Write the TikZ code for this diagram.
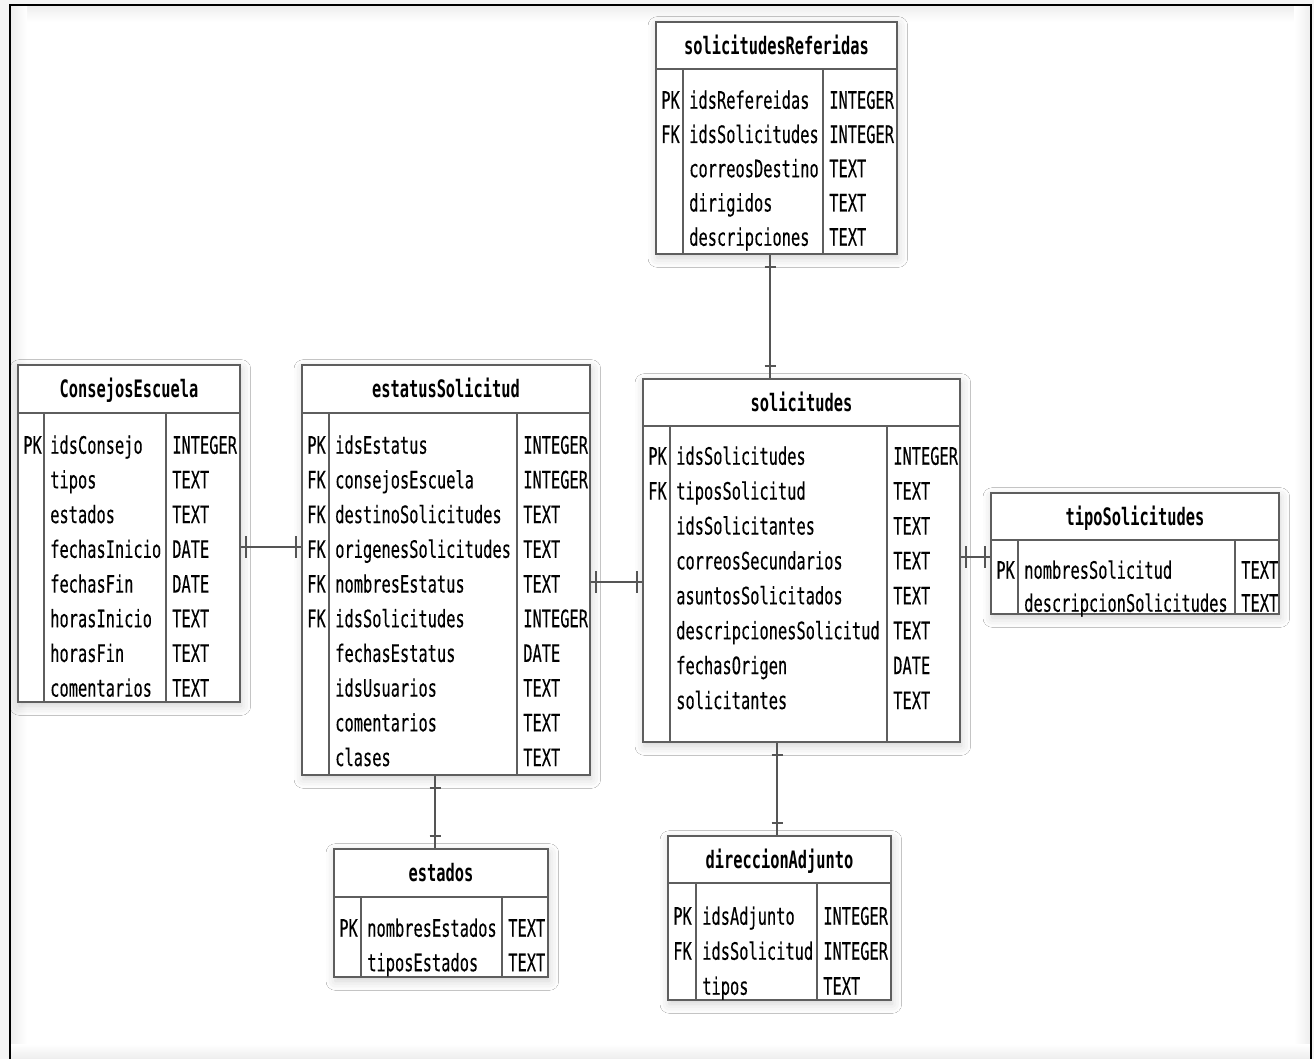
\documentclass[tikz,border=0pt]{standalone}
\usepackage{fontspec}
\setmonofont{DejaVu Sans Mono}[FakeStretch=0.64, UprightFeatures={FakeBold=0.2}]
\usetikzlibrary{fit,calc,shadows.blur}

\definecolor{rulegray}{HTML}{5E5E5E}
\definecolor{linegray}{HTML}{555555}

\tikzset{
  tbl/.style={draw=rulegray, line width=1.1pt, fill=white, inner sep=0pt,
    blur shadow={shadow xshift=1pt, shadow yshift=-3pt, shadow blur radius=7pt, shadow opacity=18}},
  rule/.style={draw=rulegray, line width=1.1pt},
  cell/.style={inner sep=0pt, anchor=west, text height=13.1pt, text depth=0pt,
    font=\ttfamily\fontsize{18}{20}\selectfont},
  ttl/.style={inner sep=0pt, anchor=center, text height=13.1pt, text depth=0pt,
    font=\ttfamily\bfseries\fontsize{18}{20}\selectfont},
  rel/.style={draw=linegray, line width=1.2pt},
}

% table frame: name, x-left, y-top, x-key rule, x-type rule, x-right, y-header rule, y-bottom, title
\newcommand\ertable[9]{%
  \node[tbl, fit={(#2,#3) (#6,#8)}] (#1) {};
  \draw[rule] (#2,#7) -- (#6,#7);
  \draw[rule] (#4,#7) -- (#4,#8);
  \draw[rule] (#5,#7) -- (#5,#8);
  \node[ttl] (#1-title) at ({(#2+#6)/2},{(#3+#7)/2}) {#9};
}
% table rows: name, x-left, x-key rule, x-type rule, first row y, row step, key/column/type list
\newcommand\errows[7]{%
  \foreach \kk/\nm/\ty [count=\i from 0] in {#7} {
    \node[cell] (#1-k\i) at ({#2+5},{#5+\i*#6}) {\kk};
    \node[cell] (#1-n\i) at ({#3+6},{#5+\i*#6}) {\nm};
    \node[cell] (#1-t\i) at ({#4+6},{#5+\i*#6}) {\ty};
  }%
}
% one-to-one relation between side-by-side tables, at the height of a junction
\newcommand\hlink[3]{%
  \draw[rel] (#1.east |- #3) coordinate (#3-a) -- (#2.west |- #3) coordinate (#3-b);
  \draw[rel] ($(#3-a)+(5,-11)$) -- ++(0,22);
  \draw[rel] ($(#3-b)+(-5,-11)$) -- ++(0,22);
}
% one-to-one relation between stacked tables, along a junction's x
\newcommand\vlink[3]{%
  \draw[rel] (#1.south -| #3) coordinate (#3-a) -- (#2.north -| #3) coordinate (#3-b);
  \draw[rel] ($(#3-a)+(-5.5,12)$) -- ++(11,0);
  \draw[rel] ($(#3-b)+(-5.5,-12)$) -- ++(11,0);
}

\begin{document}
\begin{tikzpicture}[x=0.75pt, y=-0.75pt]
\useasboundingbox (0,0) rectangle (1314,1059);

% page and frame
\fill[gray!8] (0,0) rectangle (1314,1059);
\fill[white] (10,5) rectangle (1311,1059);
\shade[top color=gray!14, bottom color=white] (10,5) rectangle (1311,22);
\shade[left color=gray!14, right color=white] (10,5) rectangle (27,1059);
\shade[left color=white, right color=gray!14] (1294,5) rectangle (1311,1059);
\shade[top color=white, bottom color=gray!14] (10,1044) rectangle (1311,1059);
\draw[line width=2.2pt, black] (10,1059) -- (10,5) -- (1311,5) -- (1311,1059);

% tables
\ertable{ref}{656}{22}{683}{823}{897}{69}{254}{solicitudesReferidas}
\errows{ref}{656}{683}{823}{100}{34.25}{PK/idsRefereidas/INTEGER, FK/idsSolicitudes/INTEGER,
  {}/correosDestino/TEXT, {}/dirigidos/TEXT, {}/descripciones/TEXT}

\ertable{cons}{18}{365}{44}{166}{240}{413}{702}{ConsejosEscuela}
\errows{cons}{18}{44}{166}{445}{34.7}{PK/idsConsejo/INTEGER, {}/tipos/TEXT, {}/estados/TEXT,
  {}/fechasInicio/DATE, {}/fechasFin/DATE, {}/horasInicio/TEXT, {}/horasFin/TEXT, {}/comentarios/TEXT}

\ertable{est}{302}{365}{329}{517}{590}{413}{775}{estatusSolicitud}
\errows{est}{302}{329}{517}{445}{34.7}{PK/idsEstatus/INTEGER, FK/consejosEscuela/INTEGER,
  FK/destinoSolicitudes/TEXT, FK/origenesSolicitudes/TEXT, FK/nombresEstatus/TEXT,
  FK/idsSolicitudes/INTEGER, {}/fechasEstatus/DATE, {}/idsUsuarios/TEXT, {}/comentarios/TEXT, {}/clases/TEXT}

\ertable{sol}{643}{379}{670}{887}{960}{426}{742}{solicitudes}
\errows{sol}{643}{670}{887}{456}{34.9}{PK/idsSolicitudes/INTEGER, FK/tiposSolicitud/TEXT,
  {}/idsSolicitantes/TEXT, {}/correosSecundarios/TEXT, {}/asuntosSolicitados/TEXT,
  {}/descripcionesSolicitud/TEXT, {}/fechasOrigen/DATE, {}/solicitantes/TEXT}

\ertable{tipo}{991}{493}{1018}{1235}{1279}{540}{614}{tipoSolicitudes}
\errows{tipo}{991}{1018}{1235}{570}{33}{PK/nombresSolicitud/TEXT, {}/descripcionSolicitudes/TEXT}

\ertable{edo}{334}{849}{361}{502}{548}{897}{977}{estados}
\errows{edo}{334}{361}{502}{928}{34.5}{PK/nombresEstados/TEXT, {}/tiposEstados/TEXT}

\ertable{dir}{668}{836}{696}{817}{891}{883}{1000}{direccionAdjunto}
\errows{dir}{668}{696}{817}{916}{35}{PK/idsAdjunto/INTEGER, FK/idsSolicitud/INTEGER, {}/tipos/TEXT}

% relation junctions
\coordinate (jce) at (271,547);
\coordinate (jes) at (616,582);
\coordinate (jst) at (975,557);
\coordinate (jrs) at (770,316);
\coordinate (jee) at (435,812);
\coordinate (jsd) at (777,789);

% relations
\hlink{cons}{est}{jce}
\hlink{est}{sol}{jes}
\hlink{sol}{tipo}{jst}
\vlink{ref}{sol}{jrs}
\vlink{est}{edo}{jee}
\vlink{sol}{dir}{jsd}
\end{tikzpicture}
\end{document}
